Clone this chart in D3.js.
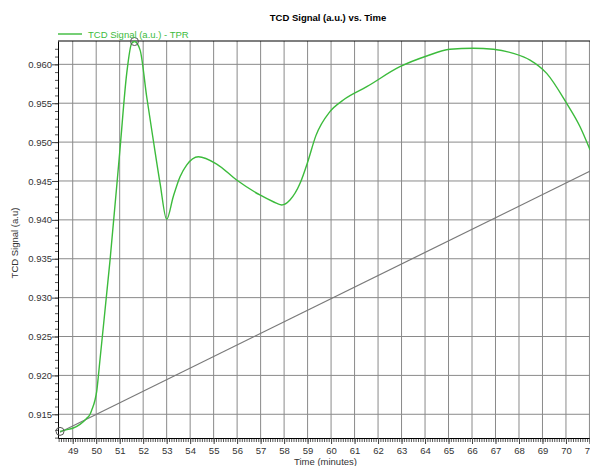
<!DOCTYPE html>
<html>
<head>
<meta charset="utf-8">
<script src="https://cdn.jsdelivr.net/npm/d3@7"></script>
<style>
  body { margin: 0; background: #fff; }
  svg { display: block; font-family: "Liberation Sans", Arial, sans-serif; }
</style>
</head>
<body>
<div id="chart"></div>
<script>
// data
var tpr_time = [48.46, 48.71, 49.00, 49.31, 49.57, 49.74, 49.81, 49.95, 50.02, 50.09, 50.16, 50.59,
  51.01, 51.30, 51.51, 51.63, 51.87, 52.15, 52.43, 52.72, 53.00, 53.28, 53.57, 53.85, 54.35, 55.13,
  55.98, 56.97, 57.54, 57.90, 58.25, 58.68, 59.00, 59.35, 59.95, 60.52, 61.52, 62.93, 64.07, 65.06,
  66.05, 66.91, 67.76, 68.47, 69.18, 70.03, 70.60, 71.03];
var tpr_signal = [0.9128, 0.9130, 0.9132, 0.9137, 0.9144, 0.9150, 0.91554, 0.91684, 0.91791, 0.91983, 0.92198, 0.93483,
  0.94898, 0.95884, 0.96270, 0.96293, 0.96183, 0.95583, 0.95027, 0.94470, 0.94007, 0.94298, 0.94555, 0.94705, 0.94812, 0.94718,
  0.94512, 0.94320, 0.94233, 0.94191, 0.94255, 0.94470, 0.94740, 0.95080, 0.95391, 0.95541, 0.95712, 0.95969, 0.96107, 0.96193,
  0.96206, 0.96193, 0.96141, 0.96055, 0.95884, 0.95498, 0.95198, 0.94898];
var base_time = [48.46, 71.05];
var base_signal = [0.9127, 0.9463];
var marker_time = [48.46, 51.63];
var marker_signal = [0.9128, 0.96293];
var x_ticks = d3.range(49, 72);
var y_ticks = [0.915, 0.920, 0.925, 0.930, 0.935, 0.940, 0.945, 0.950, 0.955, 0.960];

var W = 590, H = 466;
var margin = {left: 58, top: 41, bottom: 28};

var svg = d3.select("#chart").append("svg")
  .attr("width", W).attr("height", H);

var x = d3.scaleLinear().domain([48.374, 71.1]).range([margin.left, 591.8]);
var y = d3.scaleLinear().domain([0.91195, 0.96300]).range([H - margin.bottom, margin.top]);

// grid
svg.append("g").selectAll("line.vg")
  .data(x_ticks).enter().append("line")
    .attr("x1", function(d){return x(d);}).attr("x2", function(d){return x(d);})
    .attr("y1", y.range()[0]).attr("y2", y.range()[1])
    .attr("stroke", "#8a8a8a").attr("stroke-width", 1);
svg.append("g").selectAll("line.hg")
  .data(y_ticks).enter().append("line")
    .attr("x1", x.range()[0]).attr("x2", W)
    .attr("y1", function(d){return y(d);}).attr("y2", function(d){return y(d);})
    .attr("stroke", "#8a8a8a").attr("stroke-width", 1);

// minor ticks
var xMinor = d3.range(484, 711).map(function(d){return d/10;});
svg.append("g")
  .attr("transform", "translate(0," + y.range()[0] + ")")
  .call(d3.axisBottom(x).tickValues(xMinor).tickSize(4).tickFormat(""))
  .call(function(g){ g.select(".domain").remove(); g.selectAll("line").attr("stroke", "#555"); });
var yMinor = d3.range(912, 963).map(function(d){return d/1000;});
svg.append("g")
  .attr("transform", "translate(" + x.range()[0] + ",0)")
  .call(d3.axisLeft(y).tickValues(yMinor).tickSize(3).tickFormat(""))
  .call(function(g){ g.select(".domain").remove(); g.selectAll("line").attr("stroke", "#555"); });

// major axes
svg.append("g")
  .attr("transform", "translate(0," + y.range()[0] + ")")
  .call(d3.axisBottom(x).tickValues(x_ticks).tickSize(6).tickSizeOuter(0).tickFormat(d3.format("d")))
  .call(function(g){
    g.select(".domain").attr("stroke", "#000");
    g.selectAll("line").attr("stroke", "#444");
    g.selectAll("text").attr("font-size", "9.5px").attr("fill", "#333").attr("y", 9);
  });
svg.append("g")
  .attr("transform", "translate(" + x.range()[0] + ",0)")
  .call(d3.axisLeft(y).tickValues(y_ticks).tickSize(6).tickSizeOuter(0).tickFormat(d3.format(".3f")))
  .call(function(g){
    g.select(".domain").attr("stroke", "#000");
    g.selectAll("line").attr("stroke", "#444");
    g.selectAll("text").attr("font-size", "9.5px").attr("fill", "#333").attr("x", -6);
  });
// top border
svg.append("line")
  .attr("x1", x.range()[0]).attr("x2", W)
  .attr("y1", y.range()[1]).attr("y2", y.range()[1])
  .attr("stroke", "#000").attr("stroke-width", 1.2);

// baseline (gray)
svg.append("path")
  .datum(d3.zip(base_time, base_signal))
  .attr("fill", "none").attr("stroke", "#7a7a7a").attr("stroke-width", 1.2)
  .attr("d", d3.line().x(function(d){return x(d[0]);}).y(function(d){return y(d[1]);}));

// tcd signal
svg.append("path")
  .datum(d3.zip(tpr_time, tpr_signal))
  .attr("fill", "none").attr("stroke", "#3cbb3c").attr("stroke-width", 1.4)
  .attr("d", d3.line().curve(d3.curveMonotoneX)
    .x(function(d){return x(d[0]);}).y(function(d){return y(d[1]);}));

// markers
svg.append("g").selectAll("circle")
  .data(d3.zip(marker_time, marker_signal)).enter().append("circle")
    .attr("cx", function(d){return x(d[0]);}).attr("cy", function(d){return y(d[1]);})
    .attr("r", 4).attr("fill", "none").attr("stroke", "#555").attr("stroke-width", 1);

// title
svg.append("text")
  .attr("x", 328).attr("y", 21)
  .attr("text-anchor", "middle").attr("font-size", "9.5px").attr("font-weight", "bold")
  .text("TCD Signal (a.u.) vs. Time");

// legend
svg.append("line")
  .attr("x1", 58).attr("x2", 82).attr("y1", 34).attr("y2", 34)
  .attr("stroke", "#3cbb3c").attr("stroke-width", 1.4);
svg.append("text")
  .attr("x", 88).attr("y", 38).attr("font-size", "9.5px").attr("fill", "#3cbb3c")
  .text("TCD Signal (a.u.) - TPR");

// axis titles
svg.append("text")
  .attr("x", 294).attr("y", 465).attr("font-size", "9.5px").attr("fill", "#333")
  .text("Time (minutes)");
svg.append("text")
  .attr("transform", "translate(18,243) rotate(-90)")
  .attr("text-anchor", "middle").attr("font-size", "9.5px").attr("fill", "#333")
  .text("TCD Signal (a.u)");
</script>
</body>
</html>
